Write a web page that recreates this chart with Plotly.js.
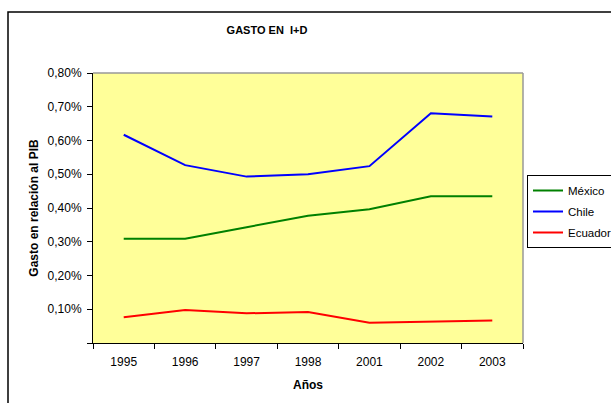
<!DOCTYPE html>
<html>
<head>
<meta charset="utf-8">
<script src="https://cdn.plot.ly/plotly-3.0.1.min.js"></script>
<style>html,body{margin:0;padding:0;background:#fff;}</style>
</head>
<body>
<div id="chart" style="width:611px;height:403px;"></div>
<script>
// Data (values in % of GDP)
const years = ['1995', '1996', '1997', '1998', '2001', '2002', '2003'];
const mexico = [0.309, 0.309, 0.343, 0.377, 0.396, 0.435, 0.435];
const chile = [0.617, 0.527, 0.493, 0.500, 0.524, 0.681, 0.671];
const ecuador = [0.076, 0.098, 0.088, 0.092, 0.060, 0.064, 0.067];
const yTickVals = [0, 0.1, 0.2, 0.3, 0.4, 0.5, 0.6, 0.7, 0.8];
const yTickText = ['', '0,10%', '0,20%', '0,30%', '0,40%', '0,50%', '0,60%', '0,70%', '0,80%'];

const font = 'Liberation Sans, Arial, sans-serif';

const traces = [
  {x: years, y: mexico, name: 'México', type: 'scatter', mode: 'lines', line: {color: '#008000', width: 2}, legendgroup: 'a'},
  {x: years, y: chile, name: 'Chile', type: 'scatter', mode: 'lines', line: {color: '#0000FF', width: 2}, legendgroup: 'b'},
  {x: years, y: ecuador, name: 'Ecuador', type: 'scatter', mode: 'lines', line: {color: '#FF0000', width: 2}, legendgroup: 'c'}
];

const layout = {
  width: 611, height: 403,
  margin: {l: 93, r: 88, t: 73, b: 60, autoexpand: false},
  paper_bgcolor: '#FFFFFF',
  plot_bgcolor: '#FFFF99',
  font: {family: font, size: 12, color: '#000'},
  title: {text: '<b>GASTO EN\u00a0 I+D</b>', font: {family: font, size: 11, color: '#000'},
          xref: 'container', x: 267/611, xanchor: 'center', yref: 'container', y: 1 - 30/403, yanchor: 'middle'},
  xaxis: {
    type: 'category', range: [-0.5, 6.5], tickson: 'boundaries', ticks: 'outside', ticklen: 5, tickcolor: '#000',
    showline: true, linecolor: '#000', linewidth: 1, showgrid: false, zeroline: false,
    tickfont: {family: font, size: 12, color: '#000'}, ticklabelstandoff: 8,
    title: {text: '<b>Años</b>', font: {family: font, size: 12, color: '#000'}, standoff: 12},
    automargin: false, fixedrange: true
  },
  yaxis: {
    range: [0, 0.8], tickvals: yTickVals, ticktext: yTickText,
    ticks: 'outside', ticklen: 5, tickcolor: '#000',
    showline: true, linecolor: '#000', linewidth: 1, showgrid: false, zeroline: false,
    tickfont: {family: font, size: 12, color: '#000'}, ticklabelstandoff: 3,
    title: {text: '<b>Gasto en relación al PIB</b>', font: {family: font, size: 12, color: '#000'}, standoff: 6},
    automargin: false, fixedrange: true
  },
  legend: {
    x: (527 - 93) / 430, xanchor: 'left', y: (343 - 175) / 270, yanchor: 'top',
    bordercolor: '#000', borderwidth: 1, bgcolor: '#FFFFFF',
    font: {family: font, size: 11.5, color: '#000'},
    itemwidth: 30, tracegroupgap: 2, traceorder: 'grouped'
  },
  shapes: [
    {type: 'line', xref: 'paper', yref: 'paper', x0: 0, x1: 1, y0: 1, y1: 1, line: {color: '#999999', width: 1.5}},
    {type: 'line', xref: 'paper', yref: 'paper', x0: 1, x1: 1, y0: 0, y1: 1, line: {color: '#999999', width: 1.5}},
    {type: 'rect', xref: 'paper', yref: 'paper', x0: (8 - 93) / 430, x1: (640 - 93) / 430,
     y0: (343 - 430) / 270, y1: (343 - 12) / 270, line: {color: '#000', width: 1.5}, fillcolor: 'rgba(0,0,0,0)'}
  ],
  showlegend: true
};

Plotly.newPlot('chart', traces, layout, {displayModeBar: false, staticPlot: true});
</script>
</body>
</html>
